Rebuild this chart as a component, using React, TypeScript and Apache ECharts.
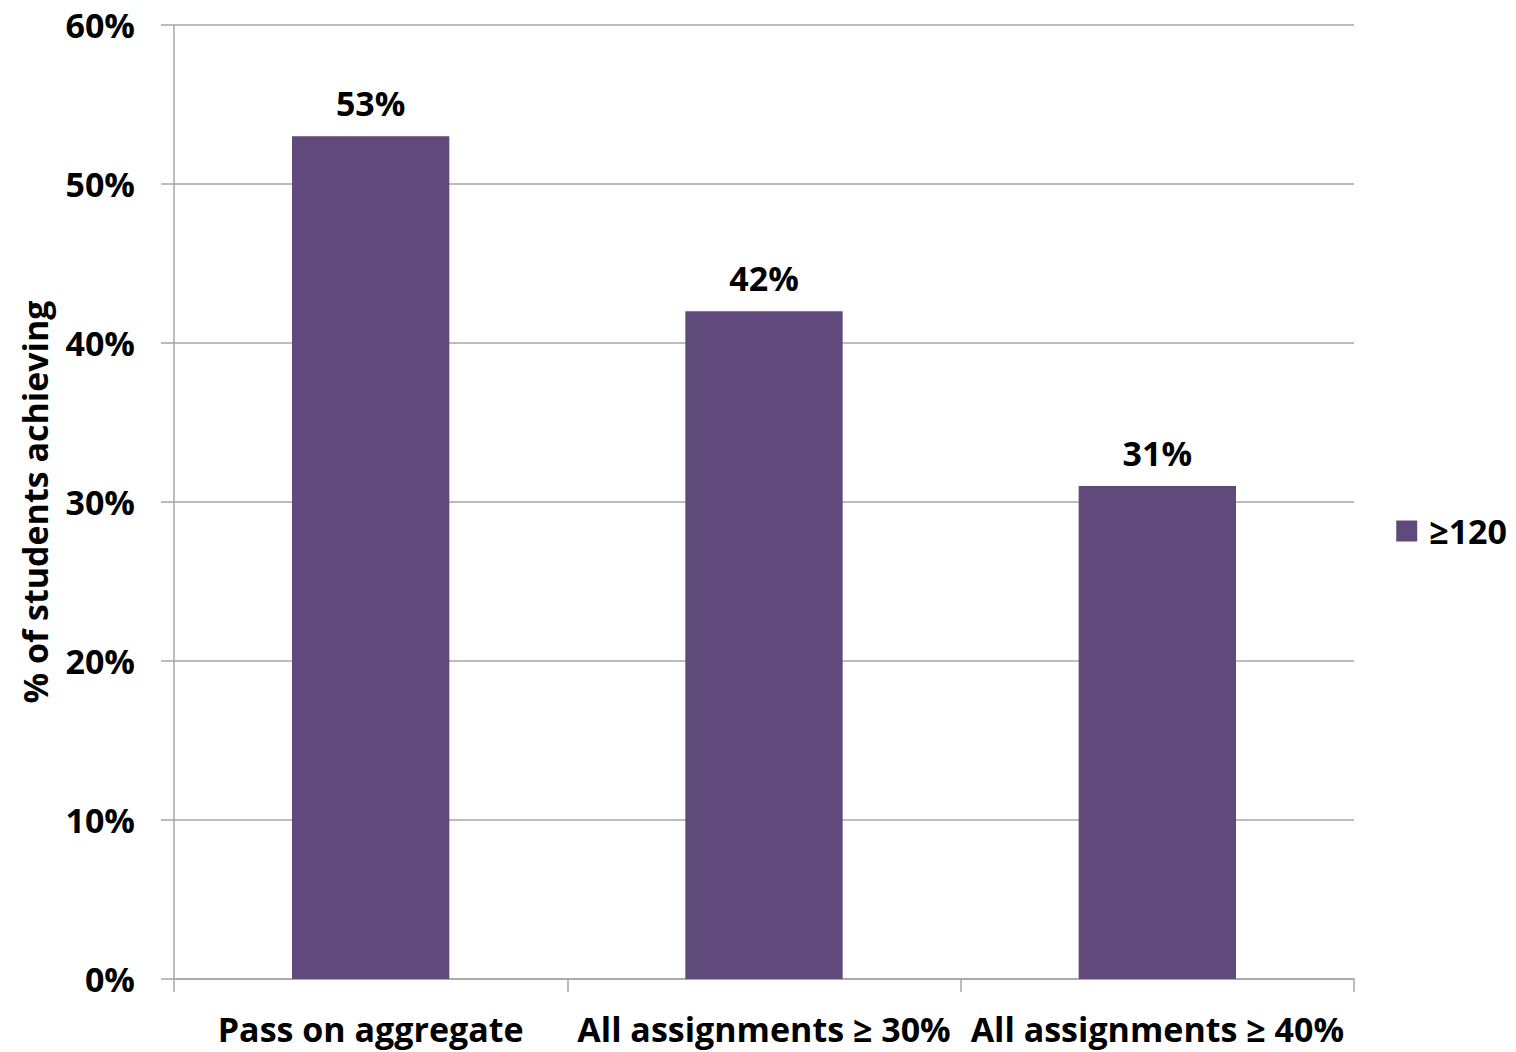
import React, { useEffect, useRef } from "react";
import * as echarts from "echarts";

const categories = ["Pass on aggregate", "All assignments ≥ 30%", "All assignments ≥ 40%"];
const values = [53, 42, 31];
const seriesName = "≥120";
const yTicks = [0, 10, 20, 30, 40, 50, 60];

const FONT = "'Open Sans', sans-serif";
const FS = 34;

export default function App() {
  const ref = useRef<HTMLDivElement>(null);
  useEffect(() => {
    const chart = echarts.init(ref.current!, null, { renderer: "svg" });
    chart.setOption({
      animation: false,
      backgroundColor: "#ffffff",
      grid: { left: 174, right: 162, top: 25, bottom: 73, containLabel: false },
      legend: {
        data: [seriesName],
        right: 4,
        top: 509,
        orient: "vertical",
        itemWidth: 21,
        itemHeight: 21,
        icon: "rect",
        textStyle: { fontFamily: FONT, fontWeight: "bold", fontSize: FS, color: "#000", padding: [0, 0, 0, 7] },
      },
      xAxis: {
        type: "category",
        data: categories,
        axisLine: { lineStyle: { color: "#a6a6a6", width: 1.5 } },
        axisTick: { show: true, length: 13, lineStyle: { color: "#a6a6a6", width: 1.5 } },
        axisLabel: { fontFamily: FONT, fontWeight: "bold", fontSize: FS, color: "#000", margin: 33, interval: 0 },
      },
      yAxis: {
        type: "value",
        min: 0,
        max: yTicks[yTicks.length - 1],
        interval: 10,
        name: "% of students achieving",
        nameLocation: "middle",
        nameGap: 122,
        nameRotate: 90,
        nameTextStyle: { fontFamily: FONT, fontWeight: "bold", fontSize: FS, color: "#000" },
        axisLine: { show: true, lineStyle: { color: "#a6a6a6", width: 1.5 } },
        axisTick: { show: true, length: 13, lineStyle: { color: "#a6a6a6", width: 1.5 } },
        splitLine: { show: true, lineStyle: { color: "#a6a6a6", width: 1.5 } },
        axisLabel: {
          fontFamily: FONT,
          fontWeight: "bold",
          fontSize: FS,
          color: "#000",
          margin: 39,
          formatter: (v: number) => v + "%",
        },
      },
      series: [
        {
          name: seriesName,
          type: "bar",
          data: values,
          barWidth: "40%",
          itemStyle: { color: "#604A7B" },
          label: {
            show: true,
            position: "top",
            distance: 16,
            fontFamily: FONT,
            fontWeight: "bold",
            fontSize: FS,
            color: "#000",
            formatter: (p: any) => p.value + "%",
          },
        },
      ],
    });
    return () => chart.dispose();
  }, []);
  return <div ref={ref} style={{ width: 1516, height: 1052, position: "absolute", left: 0, top: 0 }} />;
}
